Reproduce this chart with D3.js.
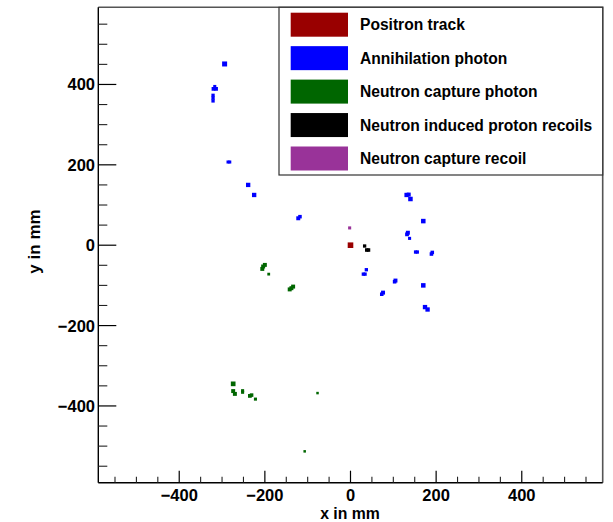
<!DOCTYPE html>
<html><head><meta charset="utf-8">
<script src="https://cdn.jsdelivr.net/npm/d3@7"></script>
<style>
html,body{margin:0;padding:0;background:#fff;}
svg{display:block;font-family:"Liberation Sans",Arial,Helvetica,sans-serif;font-weight:bold;}
</style></head>
<body>
<svg id="chart" width="613" height="522"></svg>
<script>
// ---- data (mm, energy weight) ----
const seriesNames = ["Positron track","Annihilation photon","Neutron capture photon","Neutron induced proton recoils","Neutron capture recoil"];
const seriesColors = ["#990000","#0000ff","#006600","#000000","#993399"];

const positron = [[0,0,1.0]];
const annihilation = [
  [-294,451,0.8],
  [-317,395,0.3],[-320,389,0.45],[-314,389,0.45],
  [-321,373,0.35],[-321,366,0.35],[-321,359,0.35],
  [-286,207,0.3],[-282,207,0.3],
  [-239,150,0.6],[-225,125,0.6],
  [-122,67,0.5],[-118,71,0.4],
  [131,125,0.6],[136,126,0.5],[140,115,0.65],
  [170,60,0.65],
  [132,27,0.45],[134,31,0.5],[138,17,0.3],
  [152,-17,0.35],[156,-17,0.35],
  [191,-18,0.4],[189,-22,0.4],
  [37,-61,0.35],[30,-72,0.35],[34,-72,0.35],
  [105,-88,0.5],[103,-91,0.4],
  [170,-100,0.65],
  [76,-118,0.5],[73,-122,0.4],
  [174,-154,0.6],[180,-160,0.6]
];
const captureGamma = [
  [-200,-49,0.5],[-204,-53,0.5],[-206,-59,0.5],
  [-191,-72,0.25],
  [-134,-103,0.5],[-138,-107,0.5],[-142,-110,0.5],
  [-274,-345,0.7],
  [-274,-363,0.5],[-270,-370,0.5],
  [-252,-362,0.3],[-252,-366,0.3],
  [-235,-375,0.45],[-231,-373,0.4],
  [-222,-383,0.3],
  [-77,-368,0.2],
  [-107,-513,0.2]
];
const protonRecoils = [[33,-2,0.35],[38,-12,0.4],[42,-12,0.4]];
const captureRecoil = [[-2,43,0.3]];
const seriesData = [positron, annihilation, captureGamma, protonRecoils, captureRecoil];

const xMajor = [-400,-200,0,200,400];
const yMajor = [-400,-200,0,200,400];
const xDomain = [-589,589];
const yDomain = [-591,592];

// ---- layout ----
const svg = d3.select("#chart");
const L = 98.3, R = 602.7, T = 7.3, B = 482.7;
const x = d3.scaleLinear().domain(xDomain).range([L,R]);
const y = d3.scaleLinear().domain(yDomain).range([B,T]);
const size = d3.scaleSqrt().domain([0,1]).range([0,5.6]);
const fmt = d => d < 0 ? "\u2212" + Math.abs(d) : String(d);

// frame (top/right)
svg.append("path").attr("d",`M${L},${T}H${R}V${B}`).attr("fill","none").attr("stroke","#555").attr("stroke-width",1.6);

// x axis
const xMinor = d3.range(-550,551,50).filter(v=>!xMajor.includes(v));
const gx = svg.append("g");
gx.append("line").attr("x1",L).attr("x2",R).attr("y1",B).attr("y2",B).attr("stroke","#000").attr("stroke-width",1.4);
gx.selectAll(".mj").data(xMajor).join("line").attr("x1",d=>x(d)).attr("x2",d=>x(d)).attr("y1",B).attr("y2",B-12).attr("stroke","#000").attr("stroke-width",1.2);
gx.selectAll(".mn").data(xMinor).join("line").attr("x1",d=>x(d)).attr("x2",d=>x(d)).attr("y1",B).attr("y2",B-6).attr("stroke","#222").attr("stroke-width",1.1);
gx.selectAll("text").data(xMajor).join("text").attr("x",d=>x(d)).attr("y",500.8).attr("text-anchor","middle").attr("font-size",16.5).text(fmt);
svg.append("text").attr("x",350).attr("y",518.6).attr("text-anchor","middle").attr("font-size",15.8).text("x in mm");

// y axis
const yMinor = d3.range(-550,551,50).filter(v=>!yMajor.includes(v));
const gy = svg.append("g");
gy.append("line").attr("x1",L).attr("x2",L).attr("y1",T).attr("y2",B).attr("stroke","#000").attr("stroke-width",1.4);
gy.selectAll(".mj").data(yMajor).join("line").attr("x1",L).attr("x2",L+18).attr("y1",d=>y(d)).attr("y2",d=>y(d)).attr("stroke","#000").attr("stroke-width",1.2);
gy.selectAll(".mn").data(yMinor).join("line").attr("x1",L).attr("x2",L+9).attr("y1",d=>y(d)).attr("y2",d=>y(d)).attr("stroke","#222").attr("stroke-width",1.1);
gy.selectAll("text").data(yMajor).join("text").attr("x",95).attr("y",d=>y(d)+6).attr("text-anchor","end").attr("font-size",16.5).text(fmt);
svg.append("text").attr("transform","translate(39.5,241.5) rotate(-90)").attr("text-anchor","middle").attr("font-size",17).text("y in mm");

// points
seriesData.forEach((arr,i)=>{
  svg.append("g").selectAll("rect").data(arr).join("rect")
    .attr("x",d=>x(d[0])-size(d[2])/2).attr("y",d=>y(d[1])-size(d[2])/2)
    .attr("width",d=>size(d[2])).attr("height",d=>size(d[2]))
    .attr("fill",seriesColors[i]);
});

// legend
const lg = svg.append("g");
lg.append("rect").attr("x",279).attr("y",T).attr("width",R-279).attr("height",175-T).attr("fill","#fff").attr("stroke","#333").attr("stroke-width",1.2);
const rows = seriesNames.map((n,i)=>({n,c:seriesColors[i],cy:24.7+i*33.45}));
lg.selectAll(".sw").data(rows).join("rect").attr("x",290.7).attr("y",d=>d.cy-12).attr("width",57.3).attr("height",24).attr("fill",d=>d.c);
lg.selectAll("text").data(rows).join("text").attr("x",360).attr("y",d=>d.cy+5.6).attr("font-size",15.6).text(d=>d.n);
</script>
</body></html>
